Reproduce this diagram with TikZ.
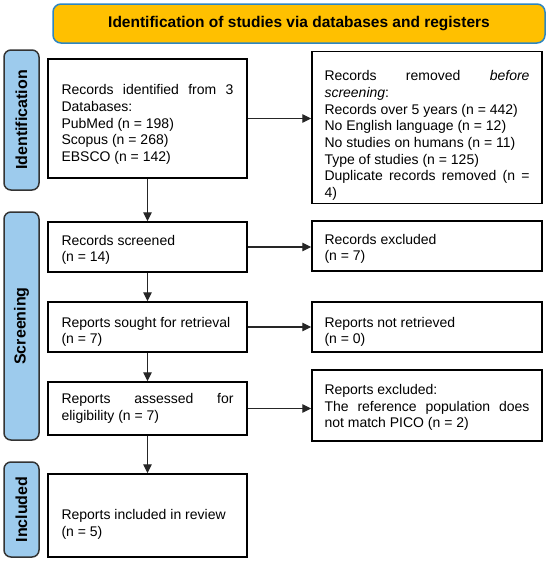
\documentclass[tikz,border=0pt]{standalone}
\usepackage{fontspec}
\setmainfont{Liberation Sans}
\usetikzlibrary{arrows.meta}
\hyphenpenalty=10000
\exhyphenpenalty=10000
\definecolor{headfill}{RGB}{255,192,0}
\definecolor{headline}{RGB}{46,134,193}
\definecolor{sidefill}{RGB}{157,203,237}
\begin{document}
\begin{tikzpicture}[x=1pt,y=1pt,
    head/.style={draw=headline, fill=headfill, rounded corners=8pt, line width=1.5pt,
      minimum width=492pt, minimum height=39pt, font=\bfseries\fontsize{15.5}{18}\selectfont},
    side/.style={draw=black!80, fill=sidefill, rounded corners=7pt, line width=1.5pt,
      rotate=90, minimum height=35pt, font=\bfseries\fontsize{16}{18}\selectfont},
    lbox/.style={draw, line width=1.5pt, text width=172pt, inner xsep=13.5pt, align=justify,
      font=\fontsize{14}{16.7}\selectfont},
    rbox/.style={draw, line width=1.5pt, text width=205pt, inner xsep=12.5pt, align=justify,
      font=\fontsize{14}{16.7}\selectfont},
    drop/.style={execute at begin node={\rule{0pt}{#1}}},
    arr/.style={line width=1.2pt, black!85, -{Triangle[length=9pt,width=8.5pt]}}]
    \useasboundingbox (0,0) rectangle (550,-563);
    \node[head] (title) at (299,-23.5) {Identification of studies via databases and registers};
    \node[side, minimum width=140pt] (idside) at (21.5,-120) {Identification};
    \node[side, minimum width=228pt] (scrside) at (21.5,-326) {Screening};
    \node[side, minimum width=95pt] (incside) at (21.5,-509.5) {Included};
    \node[lbox, drop=22pt, minimum height=119pt] (found) at (147.5,-118.5)
      {Records identified from 3 Databases:\\PubMed (n = 198)\\Scopus (n = 268)\\EBSCO (n = 142)};
    \node[rbox, drop=26pt, minimum height=149pt] (removed) at (427,-127.5)
      {Records removed \textit{before screening}:\\Records over 5 years (n = 442)\\No English language (n = 12)\\No studies on humans (n = 11)\\Type of studies (n = 125)\\Duplicate records removed (n = 4)};
    \node[lbox, drop=16pt, minimum height=50pt] (screened) at (147.5,-247) {Records screened\\(n = 14)};
    \node[rbox, drop=16pt, minimum height=50pt] (excluded) at (427,-246) {Records excluded\\(n = 7)};
    \node[lbox, drop=20pt, minimum height=50pt] (sought) at (147.5,-327) {Reports sought for retrieval\\(n = 7)};
    \node[rbox, drop=20pt, minimum height=50pt] (notret) at (427,-327) {Reports not retrieved\\(n = 0)};
    \node[lbox, minimum height=53pt] (assessed) at (147.5,-408.5) {Reports assessed for eligibility (n = 7)};
    \node[rbox, drop=14pt, minimum height=71pt] (repexcl) at (427,-405.5)
      {Reports excluded:\\The reference population does not match PICO (n = 2)};
    \node[lbox, drop=28pt, minimum height=83pt] (included) at (147.5,-515.5) {Reports included in review\\(n = 5)};
    \draw[arr] (found.east) -- (found.east -| removed.west);
    \draw[arr] (found.south) -- (screened.north);
    \draw[arr] (screened.east) -- (screened.east -| excluded.west);
    \draw[arr] (screened.south) -- (sought.north);
    \draw[arr] (sought.east) -- (sought.east -| notret.west);
    \draw[arr] (sought.south) -- (assessed.north);
    \draw[arr] (assessed.east) -- (assessed.east -| repexcl.west);
    \draw[arr] (assessed.south) -- (included.north);
\end{tikzpicture}
\end{document}
